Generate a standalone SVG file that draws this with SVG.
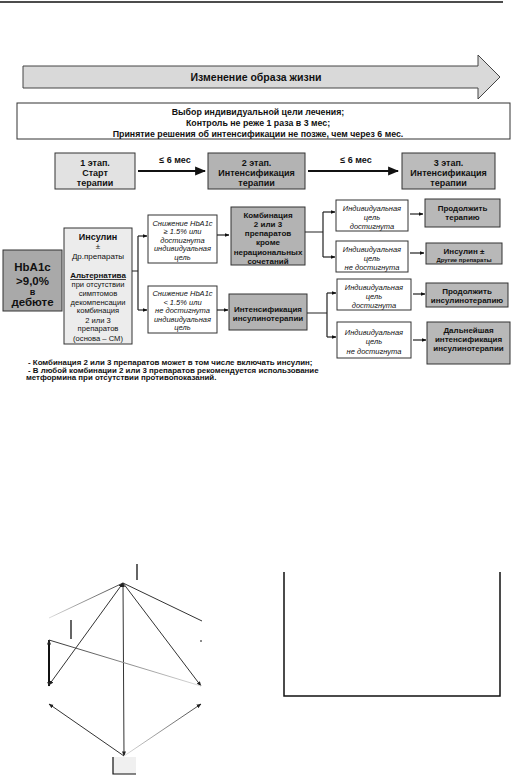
<svg xmlns="http://www.w3.org/2000/svg" width="513" height="776" viewBox="0 0 513 776">
<defs>
<style>
text{font-family:"Liberation Sans",Arial,sans-serif;fill:#111;text-anchor:middle}
.b{font-weight:bold}
.i{font-style:italic}
.l{text-anchor:start}
.box{stroke:#333;stroke-width:1}
.w{fill:#fff}
.g1{fill:#e2e2e2}
.g2{fill:#b3b3b3}
.g3{fill:#a9a9a9}
.ln{stroke:#222;stroke-width:1.2;fill:none}
.th{stroke:#111;stroke-width:2.2;fill:none}
.fig{stroke:#333;stroke-width:1;fill:none}
</style>
<marker id="ah" viewBox="0 0 10 10" refX="9" refY="5" markerWidth="5" markerHeight="5" orient="auto"><path d="M0,1 L10,5 L0,9 Z" fill="#111"/></marker>
<marker id="ab" viewBox="0 0 10 10" refX="9" refY="5" markerWidth="4" markerHeight="4" orient="auto"><path d="M0,1 L10,5 L0,9 Z" fill="#111"/></marker>
<marker id="fa" viewBox="0 0 10 10" refX="9" refY="5" markerWidth="5" markerHeight="5" markerUnits="userSpaceOnUse" orient="auto"><path d="M0,1 L10,5 L0,9 Z" fill="#222"/></marker>
<marker id="fs" viewBox="0 0 10 10" refX="1" refY="5" markerWidth="5" markerHeight="5" markerUnits="userSpaceOnUse" orient="auto"><path d="M10,1 L0,5 L10,9 Z" fill="#222"/></marker>
<linearGradient id="fade1" x1="0" y1="0" x2="1" y2="0"><stop offset="0" stop-color="#ddd"/><stop offset="1" stop-color="#444"/></linearGradient>
<linearGradient id="fade2" x1="0" y1="0" x2="1" y2="0"><stop offset="0" stop-color="#333"/><stop offset="1" stop-color="#ddd"/></linearGradient>
</defs>
<rect width="513" height="776" fill="#fff"/>
<line x1="0" y1="2" x2="503" y2="2" stroke="#111" stroke-width="1.5"/>

<g id="lifestyle">
<path d="M23,66 L478,66 L478,55 L500,77 L478,99 L478,88 L23,88 Z" fill="#d9d9d9" stroke="#444" stroke-width="1"/>
<text x="256" y="81" class="b" font-size="10.5">Изменение образа жизни</text>
</g>

<g id="goals">
<rect x="17" y="103" width="493" height="36" class="box w"/>
<text x="258" y="115" class="b" font-size="8.8">Выбор индивидуальной цели лечения;</text>
<text x="258" y="126" class="b" font-size="8.8">Контроль не реже 1 раза в 3 мес;</text>
<text x="258" y="137" class="b" font-size="8.8">Принятие решения об интенсификации не позже, чем через  6 мес.</text>
</g>

<g id="stage1">
<rect x="55" y="153" width="80" height="36" class="box g1"/>
<text x="95" y="166" class="b" font-size="9">1 этап.</text>
<text x="95" y="176" class="b" font-size="9">Старт</text>
<text x="95" y="186" class="b" font-size="9">терапии</text>
</g>
<g id="stage2">
<rect x="208" y="153" width="97" height="36" class="box g2"/>
<text x="256.5" y="166" class="b" font-size="9">2 этап.</text>
<text x="256.5" y="176" class="b" font-size="9">Интенсификация</text>
<text x="256.5" y="186" class="b" font-size="9">терапии</text>
</g>
<g id="stage3">
<rect x="402" y="153" width="93" height="36" class="box" fill="#bbb"/>
<text x="448.5" y="166" class="b" font-size="9">3 этап.</text>
<text x="448.5" y="176" class="b" font-size="9">Интенсификация</text>
<text x="448.5" y="186" class="b" font-size="9">терапии</text>
</g>

<g id="hba1c">
<rect x="3" y="250" width="59" height="61" class="box g3"/>
<text x="32.5" y="271" class="b" font-size="11.5">HbA1c</text>
<text x="32.5" y="285" class="b" font-size="11.5">&gt;9,0%</text>
<text x="32.5" y="295" class="b" font-size="9">в</text>
<text x="32.5" y="306" class="b" font-size="11.5">дебюте</text>
</g>

<g id="insulin">
<rect x="64" y="228" width="68" height="116" class="box" fill="#ececec"/>
<text x="98" y="240" class="b" font-size="9">Инсулин</text>
<text x="98" y="249" font-size="8">±</text>
<text x="98" y="259" font-size="8">Др.препараты</text>
<text x="98" y="278" class="b" font-size="8" text-decoration="underline">Альтернатива</text>
<text x="98" y="286.5" font-size="7.6">при отсутствии</text>
<text x="98" y="295.5" font-size="7.6">симптомов</text>
<text x="98" y="304.5" font-size="7.6">декомпенсации</text>
<text x="98" y="313" font-size="7.6">комбинация</text>
<text x="98" y="322.5" font-size="7.6">2 или 3</text>
<text x="98" y="331" font-size="7.6">препаратов</text>
<text x="98" y="340.5" font-size="7.6">(основа – СМ)</text>
</g>

<g id="drop-high">
<rect x="148" y="215" width="69" height="48" class="box w"/>
<text x="182.5" y="225.5" class="i" font-size="7.5">Снижение HbA1c</text>
<text x="182.5" y="234" class="i" font-size="7.5">≥ 1.5% или</text>
<text x="182.5" y="242.5" class="i" font-size="7.5">достигнута</text>
<text x="182.5" y="251" class="i" font-size="7.5">индивидуальная</text>
<text x="182.5" y="259.5" class="i" font-size="7.5">цель</text>
</g>
<g id="drop-low">
<rect x="148" y="286" width="69" height="47" class="box w"/>
<text x="182.5" y="296" class="i" font-size="7.5">Снижение HbA1c</text>
<text x="182.5" y="304.5" class="i" font-size="7.5">&lt; 1.5% или</text>
<text x="182.5" y="313" class="i" font-size="7.5">не достигнута</text>
<text x="182.5" y="321.5" class="i" font-size="7.5">индивидуальная</text>
<text x="182.5" y="330" class="i" font-size="7.5">цель</text>
</g>

<g id="combo">
<rect x="231" y="207" width="74" height="58" class="box g2"/>
<text x="268" y="218" class="b" font-size="8">Комбинация</text>
<text x="268" y="227" class="b" font-size="8">2 или 3</text>
<text x="268" y="236" class="b" font-size="8">препаратов</text>
<text x="268" y="245" class="b" font-size="8">кроме</text>
<text x="268" y="254.5" class="b" font-size="8">нерациональных</text>
<text x="268" y="263.5" class="b" font-size="8">сочетаний</text>
</g>
<g id="intens">
<rect x="229" y="294" width="78" height="36" class="box g2"/>
<text x="268" y="312" class="b" font-size="8">Интенсификация</text>
<text x="268" y="321" class="b" font-size="8">инсулинотерапии</text>
</g>

<g id="goal-yes-1">
<rect x="336" y="200" width="72" height="31" class="box w"/>
<text x="372" y="210.5" class="i" font-size="7.5">Индивидуальная</text>
<text x="372" y="219.5" class="i" font-size="7.5">цель</text>
<text x="372" y="229" class="i" font-size="7.5">достигнута</text>
</g>
<g id="goal-no-1">
<rect x="336" y="241" width="72" height="31" class="box w"/>
<text x="372" y="251.5" class="i" font-size="7.5">Индивидуальная</text>
<text x="372" y="261" class="i" font-size="7.5">цель</text>
<text x="372" y="270" class="i" font-size="7.5">не достигнута</text>
</g>
<g id="goal-yes-2">
<rect x="337" y="279" width="74" height="31" class="box w"/>
<text x="374" y="289.5" class="i" font-size="7.5">Индивидуальная</text>
<text x="374" y="298.5" class="i" font-size="7.5">цель</text>
<text x="374" y="307.5" class="i" font-size="7.5">достигнута</text>
</g>
<g id="goal-no-2">
<rect x="337" y="322" width="74" height="36" class="box w"/>
<text x="374" y="334.5" class="i" font-size="7.5">Индивидуальная</text>
<text x="374" y="344" class="i" font-size="7.5">цель</text>
<text x="374" y="353.5" class="i" font-size="7.5">не достигнута</text>
</g>

<g id="continue">
<rect x="425" y="199" width="75" height="28" class="box" fill="#b8b8b8"/>
<text x="462.5" y="211" class="b" font-size="8">Продолжить</text>
<text x="462.5" y="220" class="b" font-size="8">терапию</text>
</g>
<g id="insulin-plus">
<rect x="426" y="243" width="76" height="21" class="box" fill="#b8b8b8"/>
<text x="464" y="254" class="b" font-size="8">Инсулин ±</text>
<text x="464" y="262" class="b" font-size="6">Другие препараты</text>
</g>
<g id="continue-ins">
<rect x="426" y="283" width="82" height="24" class="box" fill="#b8b8b8"/>
<text x="467" y="294" class="b" font-size="8">Продолжить</text>
<text x="467" y="303" class="b" font-size="8">инсулинотерапию</text>
</g>
<g id="further">
<rect x="427" y="322" width="83" height="42" class="box" fill="#b8b8b8"/>
<text x="468.5" y="333" class="b" font-size="8">Дальнейшая</text>
<text x="468.5" y="342" class="b" font-size="8">интенсификация</text>
<text x="468.5" y="351" class="b" font-size="8">инсулинотерапии</text>
</g>

<g id="connectors">
<line x1="138" y1="171" x2="205" y2="171" class="th" marker-end="url(#ah)"/>
<text x="175" y="163" class="b" font-size="9">≤  6 мес</text>
<line x1="308" y1="171" x2="398" y2="171" class="th" marker-end="url(#ah)"/>
<text x="356" y="163" class="b" font-size="9">≤  6 мес</text>

<path d="M132,271 H138 M138,236 V310" class="ln"/>
<line x1="138" y1="236" x2="147" y2="236" class="ln" marker-end="url(#ab)"/>
<line x1="138" y1="310" x2="147" y2="310" class="ln" marker-end="url(#ab)"/>
<line x1="217" y1="235" x2="229" y2="235" class="ln" marker-end="url(#ab)"/>
<line x1="217" y1="310" x2="228" y2="310" class="ln" marker-end="url(#ab)"/>

<path d="M305,232 H323 M323,212 V257" class="ln"/>
<line x1="323" y1="212" x2="335" y2="212" class="ln" marker-end="url(#ab)"/>
<line x1="323" y1="257" x2="335" y2="257" class="ln" marker-end="url(#ab)"/>
<path d="M307,313 H327 M327,293 V337" class="ln"/>
<line x1="327" y1="293" x2="336" y2="293" class="ln" marker-end="url(#ab)"/>
<line x1="327" y1="337" x2="336" y2="337" class="ln" marker-end="url(#ab)"/>

<line x1="410" y1="214" x2="423" y2="214" class="ln" marker-end="url(#ab)"/>
<line x1="410" y1="253" x2="424" y2="253" class="ln" marker-end="url(#ab)"/>
<line x1="413" y1="294" x2="425" y2="294" class="ln" marker-end="url(#ab)"/>
<line x1="413" y1="340" x2="426" y2="340" class="ln" marker-end="url(#ab)"/>
</g>

<g id="notes">
<text x="28" y="365" class="b l" font-size="7.9">-  Комбинация 2  или 3  препаратов может в том числе включать инсулин;</text>
<text x="28" y="372.5" class="b l" font-size="7.9">-  В любой комбинации 2  или 3  препаратов рекомендуется использование</text>
<text x="26" y="380" class="b l" font-size="7.9">метформина при отсутствии противопоказаний.</text>
</g>

<g id="figure">
<line x1="137" y1="564" x2="137" y2="580" stroke="#111" stroke-width="1.3"/>
<line x1="71" y1="620" x2="71" y2="639" stroke="#111" stroke-width="1.3"/>
<line x1="49" y1="618" x2="123" y2="583" stroke="url(#fade1)" stroke-width="1"/>
<line x1="123" y1="583" x2="49" y2="685" class="fig" marker-end="url(#fa)" marker-start="url(#fs)"/>
<line x1="123" y1="583" x2="124" y2="756" class="fig" stroke-width="1.2" marker-end="url(#fa)" marker-start="url(#fs)"/>
<line x1="123" y1="583" x2="201" y2="686" class="fig" stroke-width="1.4" marker-end="url(#fa)"/>
<line x1="123" y1="583" x2="202" y2="621" class="fig"/>
<line x1="49" y1="640" x2="49" y2="686" stroke="#111" stroke-width="2" marker-end="url(#fa)" marker-start="url(#fs)"/>
<line x1="49" y1="640" x2="201" y2="686" stroke="url(#fade2)" stroke-width="1"/>
<circle cx="201" cy="641" r="1" fill="#666"/>
<line x1="49" y1="704" x2="124" y2="756" class="fig" marker-start="url(#fs)"/>
<line x1="201" y1="704" x2="124" y2="756" stroke="url(#fade1)" stroke-width="1" marker-start="url(#fs)"/>
<rect x="113" y="757" width="23" height="17" fill="#f0f0f0"/>
<path d="M113,757 V774 H136" stroke="#111" stroke-width="1.2" fill="none"/>
<path d="M284,572 V696 H500 V572" stroke="#111" stroke-width="1.5" fill="none"/>
</g>
</svg>
